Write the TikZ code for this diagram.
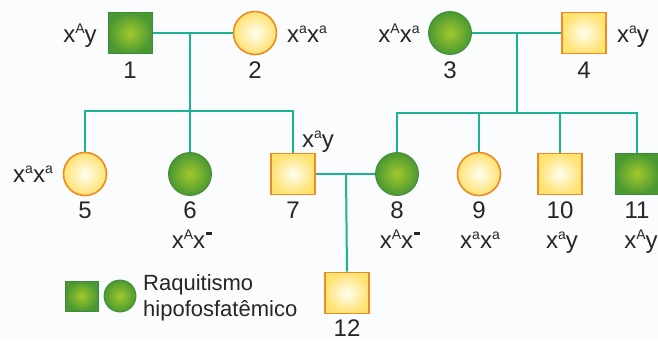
\documentclass[tikz,border=0pt]{standalone}
\usepackage{fontspec}
\setmainfont{Liberation Sans}
\definecolor{bgc}{HTML}{FAFCFE}
\definecolor{teal1}{HTML}{1BB394}
\definecolor{gin}{HTML}{A2C92C}
\definecolor{gout}{HTML}{4A9832}
\definecolor{gbor}{HTML}{3F8A38}
\definecolor{yin}{HTML}{FFFEF2}
\definecolor{yout}{HTML}{FFE270}
\definecolor{ybor}{HTML}{F08A22}
\newcommand{\sps}[1]{\raisebox{9pt}{\fontsize{14}{14}\selectfont #1}}
\newcommand{\mns}{\hspace{1pt}\rule[13.5pt]{6pt}{2.4pt}}
\tikzset{
  gsq/.style={rectangle, minimum width=44pt, minimum height=41pt, inner sep=0pt, draw=gbor, line width=1pt, inner color=gin, outer color=gout},
  gci/.style={circle, minimum size=43pt, inner sep=0pt, draw=gbor, line width=0.8pt, inner color=gin, outer color=gout},
  ysq/.style={rectangle, minimum width=44pt, minimum height=41pt, inner sep=0pt, draw=ybor, line width=1.6pt, inner color=yin, outer color=yout},
  yci/.style={circle, minimum size=43pt, inner sep=0pt, draw=ybor, line width=1.6pt, inner color=yin, outer color=yout},
  tl/.style={draw=teal1, line width=2pt},
  lab/.style={anchor=base, inner sep=0pt, font=\fontsize{24}{24}\selectfont, text=black!85},
  leg/.style={anchor=base west, inner sep=0pt, font=\fontsize{22}{22}\selectfont, text=black!85}
}
\begin{document}
\begin{tikzpicture}[x=1pt, y=-1pt]
\fill[bgc] (0,0) rectangle (658,341);
\useasboundingbox (0,0) rectangle (658,341);
% generation I
\node[gsq] (n1) at (130,33) {};
\node[yci] (n2) at (255,33) {};
\node[gci] (n3) at (450,33) {};
\node[ysq] (n4) at (584,33) {};
% generation II
\node[yci] (n5) at (85,174) {};
\node[gci] (n6) at (190,174) {};
\node[ysq] (n7) at (293,174) {};
\node[gci] (n8) at (397,174) {};
\node[yci] (n9) at (479,174) {};
\node[ysq] (n10) at (560,174) {};
\node[gsq] (n11) at (637,174) {};
% generation III
\node[ysq] (n12) at (347,293) {};
% junctions
\coordinate (m12) at (190,33);
\coordinate (s12) at (190,111);
\coordinate (m34) at (517,33);
\coordinate (s34) at (517,113);
\coordinate (m78) at (346,174);
% connectors
\draw[tl] (n1.east) -- (n2.west);
\draw[tl] (m12) -- (s12);
\draw[tl] (n5.north) -- (n5.north |- s12) -- (n7.north |- s12) -- (n7.north);
\draw[tl] (s12) -- (n6.north);
\draw[tl] (n3.east) -- (n4.west);
\draw[tl] (m34) -- (s34);
\draw[tl] (n8.north) -- (n8.north |- s34) -- (n11.north |- s34) -- (n11.north);
\draw[tl] (n9.north) -- (n9.north |- s34);
\draw[tl] (n10.north) -- (n10.north |- s34);
\draw[tl] (n7.east) -- (n8.west);
\draw[tl] (m78) -- (n12.north);
% labels generation I
\node[lab] (g1) at (80,42) {x\sps{A}y};
\node[lab] (i1) at (130,78) {1};
\node[lab] (g2) at (307,42) {x\sps{a}x\sps{a}};
\node[lab] (i2) at (255,78) {2};
\node[lab] (g3) at (399,42) {x\sps{A}x\sps{a}};
\node[lab] (i3) at (450,78) {3};
\node[lab] (g4) at (633,42) {x\sps{a}y};
\node[lab] (i4) at (584,78) {4};
% labels generation II
\node[lab] (g5) at (33,182) {x\sps{a}x\sps{a}};
\node[lab] (i5) at (85,218) {5};
\node[lab] (i6) at (190,218) {6};
\node[lab] (g6) at (192,248) {x\sps{A}x\mns};
\node[lab] (g7) at (318,147) {x\sps{a}y};
\node[lab] (i7) at (293,218) {7};
\node[lab] (i8) at (397,218) {8};
\node[lab] (g8) at (400,248) {x\sps{A}x\mns};
\node[lab] (i9) at (479,218) {9};
\node[lab] (g9) at (480,248) {x\sps{a}x\sps{a}};
\node[lab] (i10) at (560,218) {10};
\node[lab] (g10) at (562,248) {x\sps{a}y};
\node[lab] (i11) at (637,218) {11};
\node[lab] (g11) at (641,248) {x\sps{A}y};
\node[lab] (i12) at (347,336) {12};
% legend
\node[gsq, minimum width=33pt, minimum height=30pt] (lsq) at (81.5,296) {};
\node[gci, minimum size=32pt] (lci) at (120,296) {};
\node[leg] (t1) at (143,290) {Raquitismo};
\node[leg] (t2) at (143,316) {hipofosfatêmico};
\end{tikzpicture}
\end{document}
